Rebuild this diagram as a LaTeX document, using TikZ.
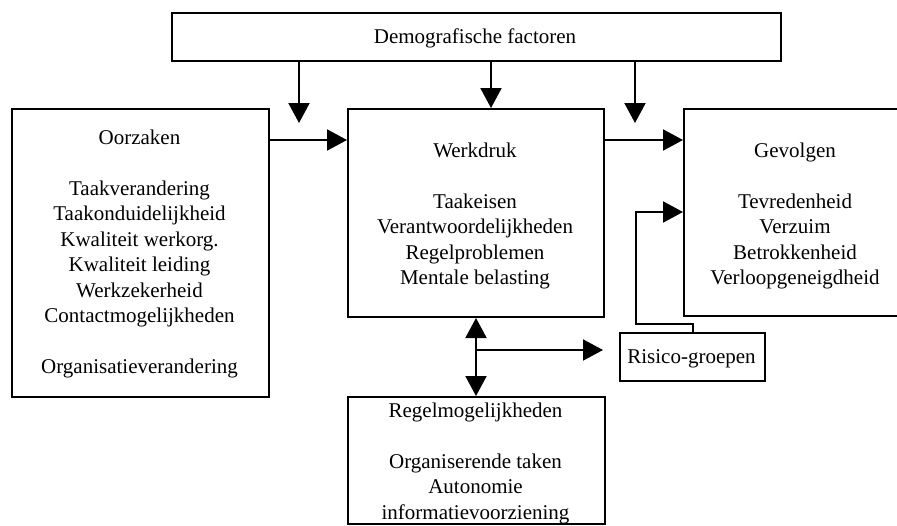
\documentclass[tikz,border=0pt]{standalone}
\usepackage{fontspec}
\setmainfont{Liberation Serif}
\usetikzlibrary{arrows.meta}
\tikzset{
  box/.style={draw, line width=2pt, rectangle, inner sep=0pt, anchor=north west},
  txt/.style={align=center, inner sep=0pt, anchor=north,
    font=\fontsize{21}{25.5}\selectfont},
  arr/.style={line width=2pt, -{Triangle[length=20pt,width=21pt]}},
  arrboth/.style={line width=2pt, {Triangle[length=20pt,width=21pt]}-{Triangle[length=20pt,width=21pt]}},
}
\begin{document}
\begin{tikzpicture}[x=1pt,y=-1pt]
\useasboundingbox (0,0) rectangle (897,525);

% boxes
\node[box, minimum width=609pt, minimum height=48pt] (demo) at (171,12) {};
\node[box, minimum width=257pt, minimum height=288pt] (oorz) at (11,108) {};
\node[box, minimum width=256pt, minimum height=208pt] (werk) at (347,108) {};
\node[box, minimum width=224pt, minimum height=207pt] (gev) at (683,108) {};
\node[box, minimum width=145pt, minimum height=48pt] (risk) at (619,332) {};
\node[box, minimum width=257pt, minimum height=127pt] (regel) at (347,396) {};

% texts (north anchor = first baseline minus strut height)
\node[txt] (tdemo) at (475,25.2) {\strut Demografische factoren};
\node[txt] (toorz) at (139.5,126.2) {\strut Oorzaken\\[25.5pt]
  Taakverandering\\ Taakonduidelijkheid\\ Kwaliteit werkorg.\\
  Kwaliteit leiding\\ Werkzekerheid\\ Contactmogelijkheden\\[25.5pt]
  Organisatieverandering};
\node[txt] (twerk) at (475,139.2) {\strut Werkdruk\\[25.5pt]
  Taakeisen\\ Verantwoordelijkheden\\ Regelproblemen\\ Mentale belasting};
\node[txt] (tgev) at (795,139.2) {\strut Gevolgen\\[25.5pt]
  Tevredenheid\\ Verzuim\\ Betrokkenheid\\ Verloopgeneigdheid};
\node[txt] (trisk) at (691.5,345.2) {\strut Risico-groepen};
\node[txt] (tregel) at (475.5,399.2) {\strut Regelmogelijkheden\\[25.5pt]
  Organiserende taken\\ Autonomie\\ informatievoorziening};

% influence of demographic factors
\draw[arr] (demo.south -| 299,0) -- (299,123);
\draw[arr] (demo.south -| 491,0) -- (werk.north -| 491,0);
\draw[arr] (demo.south -| 635,0) -- (635,123);

% main chain
\path (oorz.north east) ++(0,32) coordinate (o1);
\draw[arr] (o1) -- (o1 -| werk.west);
\path (werk.north east) ++(0,32) coordinate (w1);
\draw[arr] (w1) -- (w1 -| gev.west);

% risk groups feed back into consequences
\draw[arr] (risk.north) -- ++(0,-8) -- ++(-56.5,0) |- (gev.west |- 0,212);

% workload <-> control options, branch to risk groups
\draw[arrboth] (werk.south) -- (werk.south |- regel.north);
\path (werk.south) ++(0,32) coordinate (b0);
\draw[arr] (b0) -- ([xshift=-16pt]b0 -| risk.west);
\end{tikzpicture}
\end{document}
